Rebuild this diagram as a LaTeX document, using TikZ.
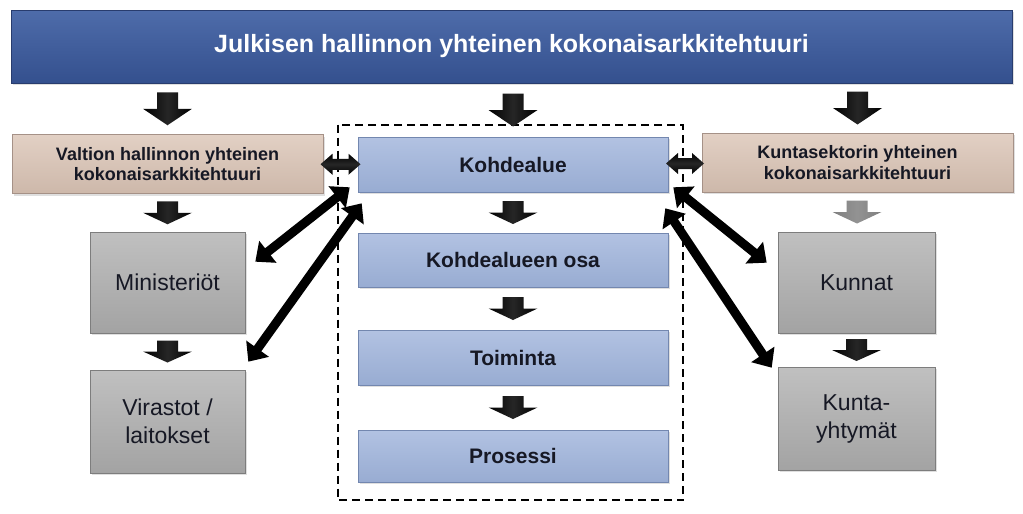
\documentclass[tikz,border=0pt]{standalone}
\usepackage{fontspec}
\setmainfont{Liberation Sans}
\usetikzlibrary{arrows.meta,calc,shadows}
\definecolor{banTop}{RGB}{78,108,170}
\definecolor{banBot}{RGB}{52,80,142}
\definecolor{banLine}{RGB}{40,60,110}
\definecolor{tanTop}{RGB}{226,208,196}
\definecolor{tanBot}{RGB}{205,184,170}
\definecolor{tanLine}{RGB}{165,145,135}
\definecolor{bluTop}{RGB}{178,194,226}
\definecolor{bluBot}{RGB}{152,172,210}
\definecolor{bluLine}{RGB}{115,135,175}
\definecolor{gryTop}{RGB}{192,192,192}
\definecolor{gryBot}{RGB}{163,163,163}
\definecolor{gryLine}{RGB}{125,125,125}
\definecolor{txtDark}{RGB}{22,24,36}
\tikzset{
  boxbase/.style={rectangle, inner sep=2pt, line width=0.6pt,
    drop shadow={opacity=0.25, shadow xshift=2pt, shadow yshift=-2pt}},
  bannerbox/.style={boxbase, top color=banTop, bottom color=banBot, draw=banLine,
    text=white, font=\fontsize{25}{30}\selectfont\bfseries},
  tanbox/.style={boxbase, top color=tanTop, bottom color=tanBot, draw=tanLine,
    text=txtDark, align=center, font=\fontsize{18}{20.5}\selectfont\bfseries},
  bluebox/.style={boxbase, top color=bluTop, bottom color=bluBot, draw=bluLine,
    text=txtDark, font=\fontsize{21}{24}\selectfont\bfseries},
  greybox/.style={boxbase, top color=gryTop, bottom color=gryBot, draw=gryLine,
    text=txtDark, align=center, font=\fontsize{23}{28}\selectfont},
  diag/.style={line width=9pt, black,
    {Triangle[length=16pt,width=27pt]}-{Triangle[length=16pt,width=27pt]}},
  dashbox/.style={draw=black, line width=2pt, dash pattern=on 8pt off 5pt},
  pics/bdown/.style n args={2}{code={
    \shade[left color=#2, right color=#2, middle color=#2!85!white]
      (-10.5,{-#1/2}) -- (10.5,{-#1/2}) -- (10.5,{#1/2-#1*0.5}) -- (24.5,{#1/2-#1*0.5})
      -- (0,{#1/2}) -- (-24.5,{#1/2-#1*0.5}) -- (-10.5,{#1/2-#1*0.5}) -- cycle;
  }},
  pics/bdouble/.style={code={
    \shade[top color=black, bottom color=black, middle color=black!85!white]
      ({-#1/2},0) -- ({-#1/2+12},-10.5) -- ({-#1/2+12},-5.5) -- ({#1/2-12},-5.5)
      -- ({#1/2-12},-10.5) -- ({#1/2},0) -- ({#1/2-12},10.5) -- ({#1/2-12},5.5)
      -- ({-#1/2+12},5.5) -- ({-#1/2+12},10.5) -- cycle;
  }}
}
\begin{document}
\begin{tikzpicture}[x=1pt,y=-1pt]
\useasboundingbox (0,0) rectangle (1023,514);
\fill[white] (0,0) rectangle (1023,514);

% banner
\node[bannerbox, minimum width=1001pt, minimum height=73pt] (ban) at (511.5,46.5)
  {Julkisen hallinnon yhteinen kokonaisarkkitehtuuri};

% left column
\node[tanbox, minimum width=311pt, minimum height=59pt] (vh) at (167.5,164)
  {Valtion hallinnon yhteinen\\kokonaisarkkitehtuuri};
\node[greybox, minimum width=155pt, minimum height=101pt] (min) at (167.5,282.5) {Ministeriöt};
\node[greybox, minimum width=155pt, minimum height=103pt] (vir) at (167.5,421.5) {Virastot /\\laitokset};

% middle column
\node[bluebox, minimum width=310pt, minimum height=55pt] (kd) at (513,164.5) {Kohdealue};
\node[bluebox, minimum width=310pt, minimum height=54pt] (ko) at (513,260) {Kohdealueen osa};
\node[bluebox, minimum width=310pt, minimum height=55pt] (to) at (513,357.5) {Toiminta};
\node[bluebox, minimum width=310pt, minimum height=52pt] (pr) at (513,456) {Prosessi};

% right column
\node[tanbox, minimum width=311pt, minimum height=59pt] (ks) at (857.5,162.5)
  {Kuntasektorin yhteinen\\kokonaisarkkitehtuuri};
\node[greybox, minimum width=157pt, minimum height=101pt] (kun) at (856.5,282.5) {Kunnat};
\node[greybox, minimum width=157pt, minimum height=103pt] (ky) at (856.5,418.5) {Kunta-\\yhtymät};

% dashed frame
\draw[dashbox] ($(kd.north west)+(-20,-12)$) rectangle ($(pr.south east)+(15,18)$);

% block arrows down
\pic at ($(vh.north |- ban.south)!0.5!(vh.north)$) {bdown={33}{black}};
\pic at ($(kd.north |- ban.south)!0.5!(kd.north)$) {bdown={33}{black}};
\pic at ($(ks.north |- ban.south)!0.5!(ks.north)$) {bdown={33}{black}};
\pic at ($(vh.south)!0.5!(min.north)$) {bdown={23}{black}};
\pic at ($(min.south)!0.5!(vir.north)$) {bdown={22}{black}};
\pic at ($(kd.south)!0.5!(ko.north)$) {bdown={23}{black}};
\pic at ($(ko.south)!0.5!(to.north)$) {bdown={23}{black}};
\pic at ($(to.south)!0.5!(pr.north)$) {bdown={23}{black}};
\pic at ($(ks.south)!0.5!(kun.north)$) {bdown={23}{gray}};
\pic at ($(kun.south)!0.5!(ky.north)$) {bdown={22}{black}};

% horizontal double arrows
\pic at ($(vh.east)!0.5!(kd.west)$) {bdouble=40};
\pic at ($(kd.east)!0.5!(ks.west)$) {bdouble=38};

% diagonal double arrows
\draw[diag] ($(kd.south west)+(-8,-5)$) -- ($(min.north east)+(10,30)$);
\draw[diag] ($(kd.south west)+(4,11)$) -- ($(vir.north east)+(3,-8)$);
\draw[diag] ($(kd.south east)+(5,-5)$) -- ($(kun.north west)+(-11,31)$);
\draw[diag] ($(kd.south east)+(-3,16)$) -- ($(ky.north west)+(-6,1)$);
\end{tikzpicture}
\end{document}
